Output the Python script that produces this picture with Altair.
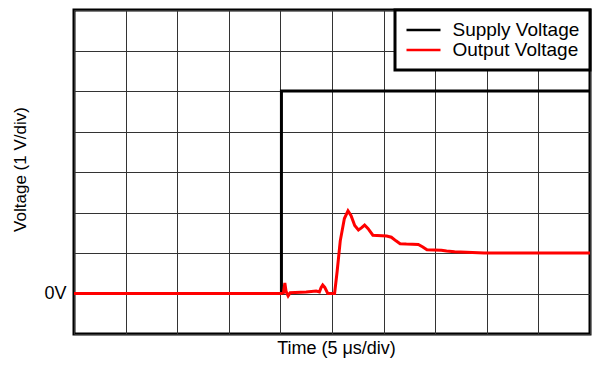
import altair as alt
import pandas as pd

# Supply voltage (µs, V)
supply_t = [0, 20.1, 20.1, 50]
supply_v = [0, 0, 5.0, 5.0]

# Output voltage (µs, V)
output_t = [0, 20.1, 20.3, 20.43, 20.55, 20.75, 20.95, 22.5, 23.47, 23.78, 23.95, 24.1, 24.3, 24.59,
            25.25, 25.5, 25.8, 26.2, 26.55, 26.85, 27.2, 27.56, 27.85, 28.16, 28.5, 28.96,
            30.3, 30.75, 31.2, 31.6, 32.2, 33.36, 33.8, 34.2, 35.6, 36.1, 36.88, 39.75, 50]
output_v = [0, 0, 0.02, 0.26, 0.05, -0.06, 0.02, 0.04, 0.06, 0.04, 0.15, 0.21, 0.15, 0.0,
            0.0, 0.55, 1.3, 1.85, 2.04, 1.92, 1.68, 1.57, 1.62, 1.69, 1.6, 1.44,
            1.42, 1.39, 1.3, 1.23, 1.22, 1.21, 1.15, 1.08, 1.07, 1.05, 1.03, 1.0, 1.0]

series_names = ["Supply Voltage", "Output Voltage"]
series_colors = ["#000000", "#ff0000"]

x_ticks = list(range(0, 51, 5))
y_ticks = list(range(-1, 8))

FONT = "Liberation Sans"

supply_df = pd.DataFrame({"t": supply_t, "v": supply_v, "series": series_names[0],
                          "i": range(len(supply_t))})
output_df = pd.DataFrame({"t": output_t, "v": output_v, "series": series_names[1],
                          "i": range(len(output_t))})

color = alt.Color("series:N",
                  scale=alt.Scale(domain=series_names, range=series_colors),
                  legend=alt.Legend(title=None, orient="top-right", offset=0))

x_enc = alt.X("t:Q", scale=alt.Scale(domain=[0, 50], nice=False, zero=False),
              axis=alt.Axis(values=x_ticks, labels=False, ticks=False, domain=False,
                            grid=True, title="Time (5 μs/div)",
                            titleFontSize=18, titleFontWeight="normal", titleFont=FONT,
                            titleColor="black", titleBaseline="alphabetic",
                            titleX=262, titleY=19))
y_enc = alt.Y("v:Q", scale=alt.Scale(domain=[-1, 7], nice=False, zero=False),
              axis=alt.Axis(values=y_ticks, ticks=False, domain=False, grid=True,
                            labelExpr="datum.value == 0 ? '0V' : ''",
                            labelFontSize=18, labelFont=FONT, labelColor="black",
                            labelPadding=8,
                            title="Voltage (1 V/div)", titleFontSize=17,
                            titleFontWeight="normal", titleFont=FONT, titleColor="black",
                            titleBaseline="alphabetic", titleX=-49, titleY=159))

supply = alt.Chart(supply_df).mark_line(strokeWidth=3).encode(
    x=x_enc, y=y_enc, color=color, order="i:Q")
output = alt.Chart(output_df).mark_line(strokeWidth=3).encode(
    x=x_enc, y=y_enc, color=color, order="i:Q")

chart = alt.layer(supply, output).properties(
    width=516, height=324,
    autosize=alt.AutoSizeParams(type="none"),
    padding={"left": 66, "top": 2, "right": 2, "bottom": 24},
).configure_view(
    stroke="black", strokeWidth=3
).configure_axis(
    gridColor="#333333", gridWidth=1, gridOpacity=1
).configure_legend(
    strokeColor="black", strokeWidth=3, fillColor="white", padding=10,
    labelFont=FONT, labelFontSize=19, labelColor="black",
    symbolType="M-1,0H3", symbolSize=289, symbolStrokeWidth=2.5,
    labelOffset=27.5, rowPadding=0, labelLimit=300
)

chart.save("out.html", embed_options={"renderer": "svg", "actions": False})
